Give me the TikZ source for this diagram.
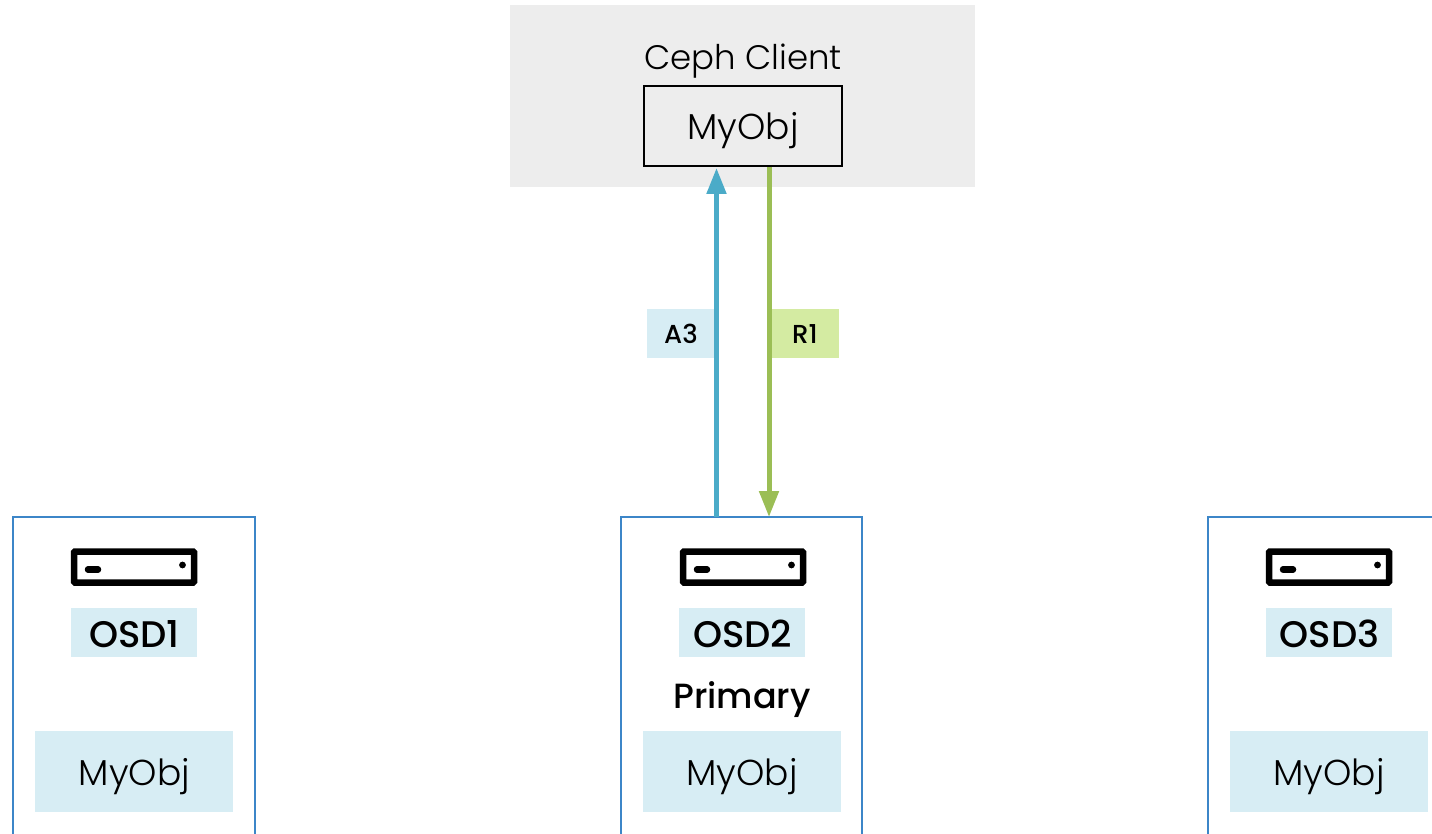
\documentclass[tikz,border=0pt]{standalone}
\usepackage{fontspec}
\setmainfont{Poppins}[UprightFont=* Light,BoldFont=* Medium]
\definecolor{clientbg}{HTML}{EDEDED}
\definecolor{osdline}{HTML}{3C86C8}
\definecolor{paleblue}{HTML}{D7EDF4}
\definecolor{palegreen}{HTML}{D4EBA2}
\definecolor{bluearrow}{HTML}{4BABC8}
\definecolor{greenarrow}{HTML}{9BBE55}
\usetikzlibrary{arrows.meta}
\tikzset{
  x=1pt,y=-1pt,
  every node/.style={inner sep=0pt,outer sep=0pt,text=black},
  osdbox/.style={draw=osdline,line width=2pt,minimum width=241.5pt,minimum height=360pt,anchor=north west},
  objbox/.style={fill=paleblue,minimum width=198pt,minimum height=81pt},
  osdlabel/.style={fill=paleblue,minimum width=126pt,minimum height=49pt},
  taglabel/.style={minimum width=68pt,minimum height=49pt},
  objtext/.style={font=\fontsize{36}{40}\selectfont},
  osdtext/.style={font=\fontsize{37}{40}\selectfont\bfseries},
  tagtext/.style={font=\fontsize{26}{28}\selectfont\bfseries},
  conn/.style={line width=5pt,-{Triangle[length=26pt,width=19pt]}},
  srv/.pic={
    \draw[line width=6.5pt,rounded corners=1pt] (-60,-15.5) rectangle (60,15.5);
    \draw[line width=6.5pt,line cap=round] (-46,2.5) -- (-36,2.5);
    \fill (48.5,-2) circle (3.4pt);
  }
}
\begin{document}
\begin{tikzpicture}
\useasboundingbox (0,0) rectangle (1432,834);
\clip (0,0) rectangle (1432,834);
\node[fill=clientbg,minimum width=465pt,minimum height=182pt,anchor=north west] (client) at (510,5) {};
\node[font=\fontsize{34}{40}\selectfont] (clienttitle) at (743,61) {Ceph Client};
\node[draw=black,line width=2pt,fill=clientbg,minimum width=198pt,minimum height=80pt] (clientobj) at (743,126) {};
\node[objtext] (clientobjtext) at (743,131) {MyObj};
% OSD boxes
\node[osdbox] (osd1) at (13,517) {};
\node[osdbox] (osd2) at (620.5,517) {};
\node[osdbox] (osd3) at (1207.5,517) {};
\pic at (134,567) {srv};
\pic at (743,567) {srv};
\pic at (1329,567) {srv};
\node[osdlabel] (l1) at (134,632.5) {};
\node[osdlabel] (l2) at (741.5,632.5) {};
\node[osdlabel] (l3) at (1329,632.5) {};
\node[osdtext] (t1) at (134.5,634) {OSD1};
\node[osdtext] (t2) at (742.5,634) {OSD2};
\node[osdtext] (t3) at (1329.5,634) {OSD3};
\node[font=\fontsize{35}{40}\selectfont\bfseries] (primary) at (742,700) {Primary};
\node[objbox] (o1) at (134,771.5) {};
\node[objbox] (o2) at (742,771.5) {};
\node[objbox] (o3) at (1329,771.5) {};
\node[objtext] (ot1) at (134.5,777) {MyObj};
\node[objtext] (ot2) at (742,777) {MyObj};
\node[objtext] (ot3) at (1329,777) {MyObj};
% tags
\node[taglabel,fill=paleblue] (a3) at (681,333.5) {};
\node[taglabel,fill=palegreen,minimum width=70pt] (r1) at (804,333.5) {};
\node[tagtext] (a3t) at (681,334) {A3};
\node[tagtext] (r1t) at (805,334) {R1};
% connectors
\coordinate (abot) at (716.5,517);
\coordinate (atop) at (716.5,168);
\coordinate (rtop) at (769,167);
\coordinate (rbot) at (769,517);
\draw[conn,draw=bluearrow,fill=bluearrow] (abot) -- (atop);
\draw[conn,draw=greenarrow,fill=greenarrow] (rtop) -- (rbot);
\end{tikzpicture}
\end{document}
